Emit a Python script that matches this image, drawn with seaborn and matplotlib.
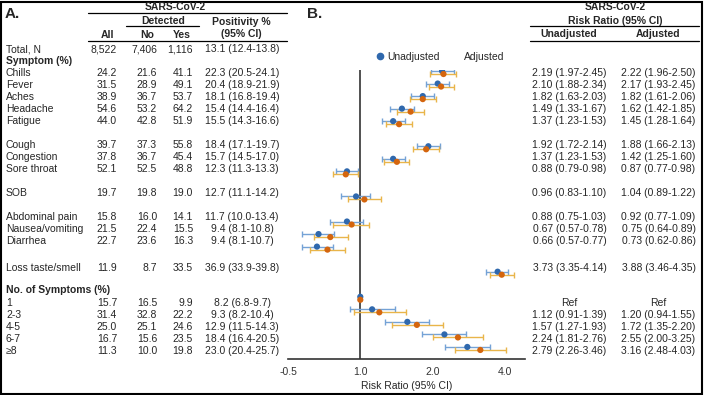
import numpy as np
import pandas as pd
import matplotlib
matplotlib.use("Agg")
import matplotlib.pyplot as plt
from matplotlib.lines import Line2D
from matplotlib.patches import Rectangle
import seaborn as sns

# ---- data ----
symptoms = ["Chills", "Fever", "Aches", "Headache", "Fatigue", "Cough", "Congestion",
            "Sore throat", "SOB", "Abdominal pain", "Nausea/vomiting", "Diarrhea",
            "Loss taste/smell"]
symptom_groups = [5, 3, 1, 3, 1]
counts = ["1", "2-3", "4-5", "6-7", "≥8"]

sym_all = [24.2, 31.5, 38.9, 54.6, 44.0, 39.7, 37.8, 52.1, 19.7, 15.8, 21.5, 22.7, 11.9]
sym_no = [21.6, 28.9, 36.7, 53.2, 42.8, 37.3, 36.7, 52.5, 19.8, 16.0, 22.4, 23.6, 8.7]
sym_yes = [41.1, 49.1, 53.7, 64.2, 51.9, 55.8, 45.4, 48.8, 19.0, 14.1, 15.5, 16.3, 33.5]
sym_pos = [22.3, 20.4, 18.1, 15.4, 15.5, 18.4, 15.7, 12.3, 12.7, 11.7, 9.4, 9.4, 36.9]
sym_pos_lo = [20.5, 18.9, 16.8, 14.4, 14.3, 17.1, 14.5, 11.3, 11.1, 10.0, 8.1, 8.1, 33.9]
sym_pos_hi = [24.1, 21.9, 19.4, 16.4, 16.6, 19.7, 17.0, 13.3, 14.2, 13.4, 10.8, 10.7, 39.8]

cnt_all = [15.7, 31.4, 25.0, 16.7, 11.3]
cnt_no = [16.5, 32.8, 25.1, 15.6, 10.0]
cnt_yes = [9.9, 22.2, 24.6, 23.5, 19.8]
cnt_pos = [8.2, 9.3, 12.9, 18.4, 23.0]
cnt_pos_lo = [6.8, 8.2, 11.5, 16.4, 20.4]
cnt_pos_hi = [9.7, 10.4, 14.3, 20.5, 25.7]

total_n = ["8,522", "7,406", "1,116"]
total_pos = (13.1, 12.4, 13.8)

# risk ratios (symptoms then counts); None = Ref
rr_unadj = [2.19, 2.10, 1.82, 1.49, 1.37, 1.92, 1.37, 0.88, 0.96, 0.88, 0.67, 0.66, 3.73,
            None, 1.12, 1.57, 2.24, 2.79]
rr_unadj_lo = [1.97, 1.88, 1.63, 1.33, 1.23, 1.72, 1.23, 0.79, 0.83, 0.75, 0.57, 0.57, 3.35,
               None, 0.91, 1.27, 1.81, 2.26]
rr_unadj_hi = [2.45, 2.34, 2.03, 1.67, 1.53, 2.14, 1.53, 0.98, 1.10, 1.03, 0.78, 0.77, 4.14,
               None, 1.39, 1.93, 2.76, 3.46]
rr_adj = [2.22, 2.17, 1.82, 1.62, 1.45, 1.88, 1.42, 0.87, 1.04, 0.92, 0.75, 0.73, 3.88,
          None, 1.20, 1.72, 2.55, 3.16]
rr_adj_lo = [1.96, 1.93, 1.61, 1.42, 1.28, 1.66, 1.25, 0.77, 0.89, 0.77, 0.64, 0.62, 3.46,
             None, 0.94, 1.35, 2.00, 2.48]
rr_adj_hi = [2.50, 2.45, 2.06, 1.85, 1.64, 2.13, 1.60, 0.98, 1.22, 1.09, 0.89, 0.86, 4.35,
             None, 1.55, 2.20, 3.25, 4.03]

xticks = [0.5, 1, 2, 4]
xtick_labels = ["-0.5", "1.0", "2.0", "4.0"]

BLUE = "#2f68ad"
ORANGE = "#d4650e"
BLUE_ERR = "#74a2d6"
ORANGE_ERR = "#e9b54a"

# ---- layout ----
W, H = 704, 395
sns.set_style("white")
plt.rcParams["font.family"] = ["Liberation Sans", "DejaVu Sans"]
FS = 7.5

fig = plt.figure(figsize=(W / 100, H / 100), dpi=100)


def fp(x, y):
    return x / W, 1 - y / H


def txt(x, y, s, ha="left", bold=False, size=FS):
    # +1px: matplotlib's centre includes descender room
    fig.text(*fp(x, y + 1), s, ha=ha, va="center", fontsize=size,
             fontweight="bold" if bold else "normal")


def hline(x0, x1, y, lw=0.9):
    fig.add_artist(Line2D([x0 / W, x1 / W], [1 - y / H, 1 - y / H],
                          transform=fig.transFigure, color="black", lw=lw))


# plot row indices (one blank row between groups)
plot_k = []
k = 0
for g in symptom_groups:
    plot_k.extend(range(k, k + g))
    k += g + 1
plot_k.extend(range(k, k + len(counts)))

# table row positions (table has an extra heading row before counts)
table_r = []
r = 0
for g in symptom_groups:
    table_r.extend(range(r, r + g))
    r += g + 1
table_r[-1] = 16.25
head2_r = 18.08
table_r.extend([19.17 + i for i in range(len(counts))])


def ty(rr):
    return 72 + 12 * rr


# ---- forest plot ----
ax = fig.add_axes([288 / W, (H - 359) / H, (525 - 288) / W, (359 - 70) / H])

rows = []
for i, kk in enumerate(plot_k):
    for lab, v, lo, hi, off in [("Unadjusted", rr_unadj[i], rr_unadj_lo[i], rr_unadj_hi[i], -0.12),
                                ("Adjusted", rr_adj[i], rr_adj_lo[i], rr_adj_hi[i], 0.12)]:
        rows.append({"model": lab, "rr": 1.0 if v is None else v,
                     "lo": np.nan if lo is None else lo,
                     "hi": np.nan if hi is None else hi, "y": kk + off})
df = pd.DataFrame(rows)

ax.axvline(1.0, color="#333333", lw=1.2, zorder=1)
for lab, ec in [("Unadjusted", BLUE_ERR), ("Adjusted", ORANGE_ERR)]:
    d = df[(df.model == lab) & df.lo.notna()]
    ax.errorbar(d.rr, d.y, xerr=[d.rr - d.lo, d.hi - d.rr], fmt="none",
                ecolor=ec, elinewidth=1.0, capsize=2, capthick=1.0, zorder=2)
sns.scatterplot(data=df, x="rr", y="y", hue="model",
                palette={"Unadjusted": BLUE, "Adjusted": ORANGE},
                s=20, linewidth=0, ax=ax, zorder=3, legend=False)

ax.set_xscale("log", base=2)
ax.set_xlim(0.5, 4.85)
ax.set_ylim(22.84, -0.2)
ax.set_xticks(xticks)
ax.set_xticklabels(xtick_labels, fontsize=FS)
ax.minorticks_off()
ax.set_yticks([])
ax.set_ylabel("")
ax.set_xlabel("Risk Ratio (95% CI)", fontsize=FS, labelpad=3)
for s in ["left", "right", "top"]:
    ax.spines[s].set_visible(False)
ax.spines["bottom"].set_color("#333333")
ax.spines["bottom"].set_linewidth(1.2)
ax.tick_params(axis="x", direction="out", length=3.5, width=1, pad=2, colors="#333333")
ax.patch.set_alpha(0)

handles = [Line2D([], [], marker="o", ls="", color=BLUE, markersize=4.5),
           Line2D([], [], marker="", ls="")]
ax.legend(handles, ["Unadjusted", "Adjusted"], loc="center left",
          bbox_to_anchor=fp(376, 57), bbox_transform=fig.transFigure,
          ncol=2, frameon=False, fontsize=FS, handlelength=0.8,
          handletextpad=0.3, columnspacing=1.2, borderpad=0, borderaxespad=0)

# ---- panel A table ----
txt(5, 13, "A.", bold=True, size=11)
txt(175, 6, "SARS-CoV-2", ha="center", bold=True)
hline(88, 287, 13)
txt(163, 20, "Detected", ha="center", bold=True)
hline(126, 199, 26)
txt(241, 21, "Positivity %", ha="center", bold=True)
txt(107, 34, "All", ha="center", bold=True)
txt(147, 34, "No", ha="center", bold=True)
txt(182, 34, "Yes", ha="center", bold=True)
txt(241, 33, "(95% CI)", ha="center", bold=True)
hline(88, 287, 41)

COL_ALL, COL_NO, COL_YES, COL_POS = 117, 157, 193, 242


def fmt_ci(v, lo, hi):
    return f"{v:.1f} ({lo:.1f}-{hi:.1f})"


txt(6, ty(-2), "Total, N")
for x, s in zip([COL_ALL, COL_NO, COL_YES], total_n):
    txt(x, ty(-2), s, ha="right")
txt(COL_POS, ty(-2), fmt_ci(*total_pos), ha="center")
txt(6, ty(-1), "Symptom (%)", bold=True)
for i, name in enumerate(symptoms):
    y = ty(table_r[i])
    txt(6, y, name)
    txt(COL_ALL, y, f"{sym_all[i]:.1f}", ha="right")
    txt(COL_NO, y, f"{sym_no[i]:.1f}", ha="right")
    txt(COL_YES, y, f"{sym_yes[i]:.1f}", ha="right")
    txt(COL_POS, y, fmt_ci(sym_pos[i], sym_pos_lo[i], sym_pos_hi[i]), ha="center")
txt(6, ty(head2_r), "No. of Symptoms (%)", bold=True)
for j, name in enumerate(counts):
    y = ty(table_r[len(symptoms) + j])
    txt(6, y, name)
    txt(COL_ALL, y, f"{cnt_all[j]:.1f}", ha="right")
    txt(COL_NO, y, f"{cnt_no[j]:.1f}", ha="right")
    txt(COL_YES, y, f"{cnt_yes[j]:.1f}", ha="right")
    txt(COL_POS, y, fmt_ci(cnt_pos[j], cnt_pos_lo[j], cnt_pos_hi[j]), ha="center")

# ---- panel B table ----
txt(307, 13, "B.", bold=True, size=11)
txt(615, 6, "SARS-CoV-2", ha="center", bold=True)
txt(615, 20, "Risk Ratio (95% CI)", ha="center", bold=True)
hline(530, 699, 26)
txt(569, 33, "Unadjusted", ha="center", bold=True)
txt(658, 33, "Adjusted", ha="center", bold=True)
hline(530, 699, 41)


def fmt_rr(v, lo, hi):
    return "Ref" if v is None else f"{v:.2f} ({lo:.2f}-{hi:.2f})"


for i, rr in enumerate(table_r):
    y = ty(rr)
    txt(569.5, y, fmt_rr(rr_unadj[i], rr_unadj_lo[i], rr_unadj_hi[i]), ha="center")
    txt(658.5, y, fmt_rr(rr_adj[i], rr_adj_lo[i], rr_adj_hi[i]), ha="center")

# outer frame
fig.add_artist(Rectangle((0.5 / W, 1.5 / H), (W - 2.5) / W, (H - 3) / H,
                         transform=fig.transFigure, fill=False, ec="black", lw=1.5))

fig.savefig("out.png", dpi=100)
